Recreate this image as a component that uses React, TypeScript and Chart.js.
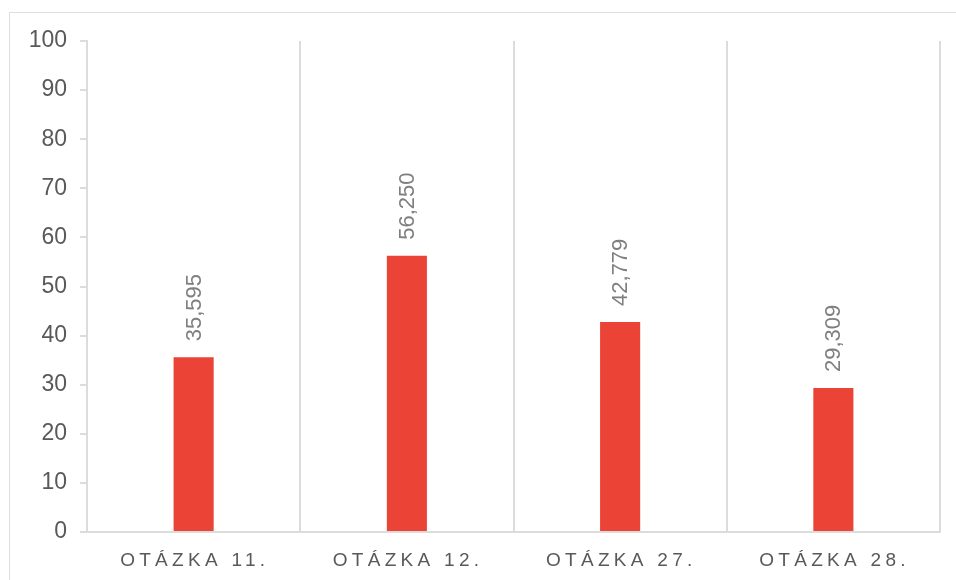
import React, { useEffect, useRef } from "react";
import { Chart, registerables } from "chart.js";

Chart.register(...registerables);

const categories = ["OTÁZKA 11.", "OTÁZKA 12.", "OTÁZKA 27.", "OTÁZKA 28."];
const values = [35.595, 56.25, 42.779, 29.309];
const yMin = 0;
const yMax = 100;
const yStep = 10;

const FONT = "'Liberation Sans', Arial, Helvetica, sans-serif";

const dataLabelPlugin = {
  id: "dataLabels",
  afterDatasetsDraw(chart: any) {
    const ctx = chart.ctx;
    const meta = chart.getDatasetMeta(0);
    ctx.save();
    ctx.font = `22px ${FONT}`;
    ctx.fillStyle = "#7f7f7f";
    meta.data.forEach((bar: any, i: number) => {
      const label = values[i].toFixed(3).replace(".", ",");
      ctx.save();
      ctx.translate(bar.x + 1, bar.y - 16);
      ctx.rotate(-Math.PI / 2);
      ctx.textAlign = "left";
      ctx.textBaseline = "middle";
      ctx.fillText(label, 0, 0);
      ctx.restore();
    });
    ctx.restore();
  },
};

const xLabelPlugin = {
  id: "xLabels",
  afterDraw(chart: any) {
    const ctx = chart.ctx;
    const xs = chart.scales.x;
    const spacing = 4.3;
    ctx.save();
    ctx.font = `19px ${FONT}`;
    ctx.fillStyle = "#595959";
    (ctx as any).letterSpacing = `${spacing}px`;
    ctx.textAlign = "left";
    ctx.textBaseline = "alphabetic";
    categories.forEach((c, i) => {
      const x = xs.getPixelForValue(i);
      const w = ctx.measureText(c).width - spacing;
      ctx.fillText(c, x - w / 2 - 1, chart.chartArea.bottom + 34);
    });
    ctx.restore();
  },
};

export default function App() {
  const ref = useRef<HTMLCanvasElement>(null);
  useEffect(() => {
    const chart = new Chart(ref.current!, {
      type: "bar",
      data: {
        labels: categories,
        datasets: [
          {
            data: values,
            backgroundColor: "#EB4335",
            barPercentage: 0.188,
            categoryPercentage: 1,
          },
        ],
      },
      options: {
        animation: false,
        responsive: false,
        maintainAspectRatio: false,
        layout: { padding: { left: 0, right: 16, top: 41, bottom: 0 } },
        plugins: { legend: { display: false }, tooltip: { enabled: false } },
        scales: {
          x: {
            afterFit: (s: any) => {
              s.height = 48;
            },
            ticks: { display: false },
            grid: {
              display: true,
              offset: true,
              drawTicks: false,
              color: "#dcdcdc",
              lineWidth: 2,
            },
            border: { display: true, color: "#dcdcdc", width: 2 },
          },
          y: {
            min: yMin,
            max: yMax,
            afterFit: (s: any) => {
              s.width = 87;
            },
            ticks: {
              stepSize: yStep,
              color: "#595959",
              font: { family: FONT, size: 23 },
              padding: 13,
            },
            grid: {
              display: true,
              drawOnChartArea: false,
              drawTicks: true,
              tickLength: 7,
              color: "#dcdcdc",
              lineWidth: 2,
            },
            border: { display: true, color: "#dcdcdc", width: 2 },
          },
        },
      },
      plugins: [dataLabelPlugin, xLabelPlugin],
    });
    return () => chart.destroy();
  }, []);

  return (
    <div>
      <div
        style={{
          position: "fixed",
          left: 9,
          top: 12,
          width: 1200,
          height: 1000,
          border: "1px solid #dedede",
          boxSizing: "border-box",
          background: "#fff",
        }}
      />
      <canvas
        ref={ref}
        width={956}
        height={580}
        style={{ position: "fixed", left: 0, top: 0, width: 956, height: 580 }}
      />
    </div>
  );
}
